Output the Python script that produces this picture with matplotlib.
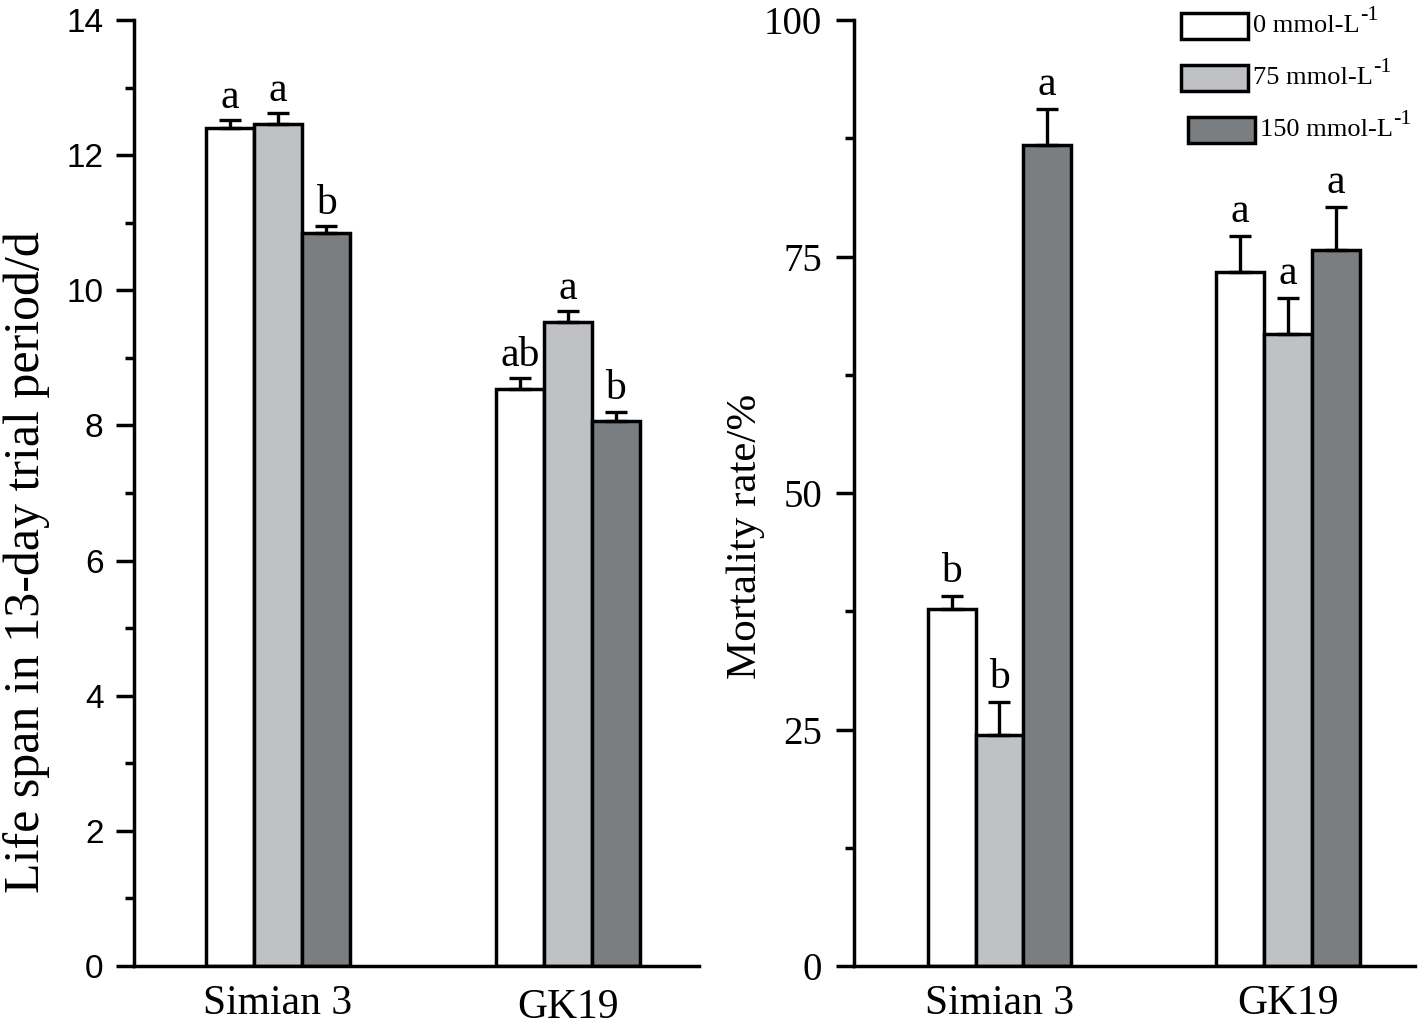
import matplotlib
matplotlib.use("Agg")
import matplotlib.pyplot as plt
from matplotlib.patches import Rectangle
from matplotlib.ticker import MultipleLocator
from matplotlib.transforms import ScaledTranslation
import numpy as np

# data
cultivars = ["Simian 3", "GK19"]
treatments = ["0 mmol-L", "75 mmol-L", "150 mmol-L"]
colors = ["#ffffff", "#c0c1c4", "#7b7e80"]

life_span = [[12.40, 8.54], [12.46, 9.53], [10.85, 8.07]]
life_err = [[0.12, 0.16], [0.16, 0.16], [0.10, 0.13]]
life_letters = [["a", "ab"], ["a", "a"], ["b", "b"]]

mortality = [[37.7, 73.4], [24.4, 66.8], [86.8, 75.7]]
mort_err = [[1.4, 3.8], [3.5, 3.8], [3.8, 4.5]]
mort_letters = [["b", "a"], ["b", "a"], ["a", "a"]]

SERIF = "Liberation Serif"
SANS = "Liberation Sans"

fig = plt.figure(figsize=(14.18, 10.27), dpi=100)
ax1 = fig.add_axes([0.0945, 0.0594, 0.3984, 0.9211])
ax2 = fig.add_axes([0.6023, 0.0594, 0.3956, 0.9211])

width = 0.1655
x = np.arange(len(cultivars))


def draw_bars(ax, values, errs, letters, offset):
    for i, (vals, err, lets) in enumerate(zip(values, errs, letters)):
        pos = x + (i - 1) * width
        ax.bar(pos, vals, width, color=colors[i], edgecolor="black",
               linewidth=2.5, zorder=2)
        ax.errorbar(pos, vals, yerr=[np.zeros(len(err)), err], fmt="none",
                    ecolor="black", elinewidth=2.4, capsize=8, capthick=2.4,
                    zorder=3)
        for p, v, e, t in zip(pos, vals, err, lets):
            ax.annotate(t, (p, v + e), xytext=(0, offset),
                        textcoords="offset points", ha="center",
                        va="baseline", fontsize=30, family=SERIF)


def style_axes(ax, tick_family, tick_size, ypad):
    for s in ["top", "right"]:
        ax.spines[s].set_visible(False)
    for s in ["left", "bottom"]:
        ax.spines[s].set_linewidth(2.5)
    ax.tick_params(axis="y", which="major", length=13, width=2.5,
                   pad=ypad, labelsize=tick_size)
    ax.tick_params(axis="y", which="minor", length=6.5, width=2.5)
    ax.tick_params(axis="x", length=0, pad=13, labelsize=30)
    ax.set_xticks(x)
    ax.set_xticklabels(cultivars, family=SERIF)
    for lab in ax.get_yticklabels():
        lab.set_family(tick_family)


draw_bars(ax1, life_span, life_err, life_letters, 9)
ax1.set_xlim(-0.497, 1.452)
ax1.set_ylim(0, 14)
ax1.yaxis.set_major_locator(MultipleLocator(2))
ax1.yaxis.set_minor_locator(MultipleLocator(1))
style_axes(ax1, SANS, 24, 9)
ax1.set_ylabel("Life span in 13-day trial period/d", fontsize=36, family=SERIF)
ax1.yaxis.set_label_coords(-0.149, 0.427)
# the GK19 label sits a bit lower in the original
gk = ax1.get_xticklabels()[1]
gk.set_transform(gk.get_transform() + ScaledTranslation(0, -3 / 72, fig.dpi_scale_trans))

draw_bars(ax2, mortality, mort_err, mort_letters, 10)
ax2.set_xlim(-0.504, 1.44)
ax2.set_ylim(0, 100)
ax2.yaxis.set_major_locator(MultipleLocator(25))
ax2.yaxis.set_minor_locator(MultipleLocator(12.5))
style_axes(ax2, SERIF, 28, 10)
ax2.set_ylabel("Mortality rate/%", fontsize=31, family=SERIF)
ax2.yaxis.set_label_coords(-0.159, 0.4545)

# legend drawn by hand, third entry sits a little to the right as in the original
legend_rows = [(0.583, 0.980), (0.583, 0.925), (0.595, 0.870)]
for (lx, ly), c, name in zip(legend_rows, colors, treatments):
    ax2.add_patch(Rectangle((lx, ly), 0.119, 0.0275, transform=ax2.transAxes,
                            facecolor=c, edgecolor="black", linewidth=2.5,
                            clip_on=False, zorder=4))
    t = ax2.text(lx + 0.128, ly + 0.002, name, transform=ax2.transAxes,
                 fontsize=19, family=SERIF, va="bottom", ha="left")
    ax2.annotate("-1", xy=(1, 0.55), xycoords=t, xytext=(0.5, 0),
                 textcoords="offset points", fontsize=16, family=SERIF,
                 va="bottom", ha="left")

fig.savefig("out.png", dpi=100)
